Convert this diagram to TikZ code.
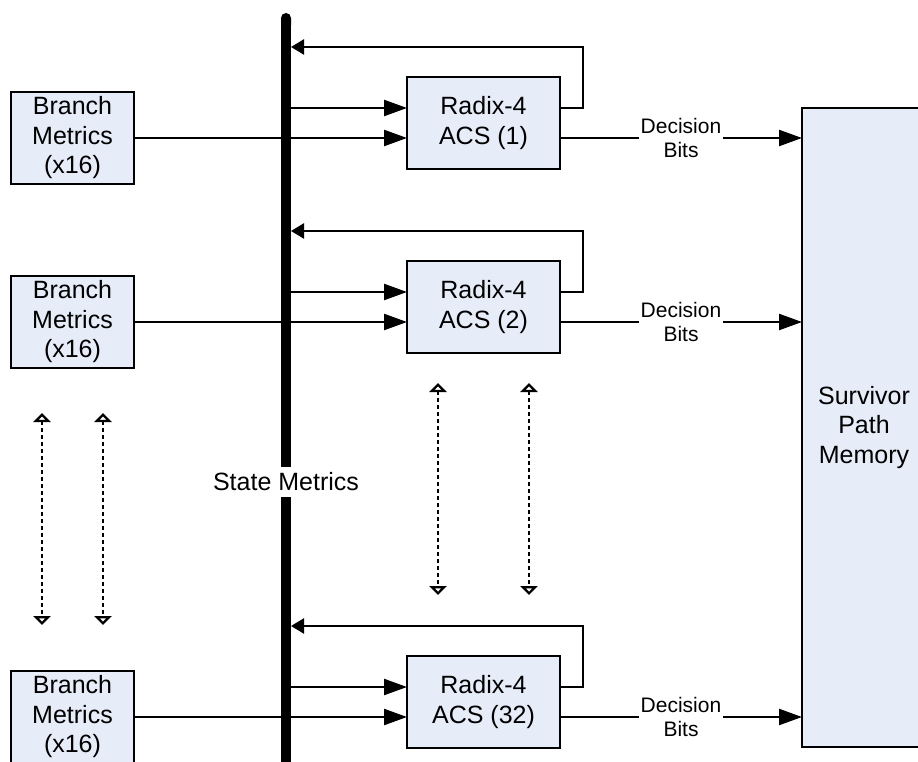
\documentclass[tikz,border=0pt]{standalone}
\usepackage{fontspec}
\setmainfont{Liberation Sans}
\usetikzlibrary{arrows.meta}

\begin{document}
\begin{tikzpicture}[x=1pt, y=-1pt]
    % 定义颜色
    \definecolor{boxfill}{RGB}{230, 237, 248}
    % --- 设置全局样式 ---
    \useasboundingbox (0,0) rectangle (918,762); % 画布范围

    % 方框样式
    \tikzset{BoxStyle/.style = {
        shape=rectangle,        % 形状：矩形
        draw=black,             % 边框颜色
        fill=boxfill,           % 填充颜色
        line width=2.5pt,       % 边框粗细
        inner sep=0pt,          % 内部文字边距
        outer sep=0pt,
        align=center,           % 文字居中
        font=\fontsize{25}{29.5}\selectfont % 字体设置
    }}
    \tikzset{BranchStyle/.style = {BoxStyle, minimum width=123, minimum height=92}}
    \tikzset{AcsStyle/.style = {BoxStyle, minimum width=153, minimum height=92}}

    % 连线样式
    \tikzset{SigStyle/.style = {
        -{Triangle[length=23pt, width=16pt]}, % 箭头
        line width=2.3pt,       % 线条粗细
        color=black             % 线条颜色
    }}
    \tikzset{FeedStyle/.style = {
        -{Triangle[length=13pt, width=15pt]},
        line width=2.3pt,
        color=black
    }}
    \tikzset{BusStyle/.style = {line width=10pt, color=black}}
    \tikzset{DotStyle/.style = {
        {Triangle[open, length=9pt, width=17pt]}-{Triangle[open, length=9pt, width=17pt]},
        line width=2.3pt,
        dash pattern=on 4pt off 3pt
    }}
    \tikzset{DecStyle/.style = {
        fill=white, inner xsep=2pt, inner ysep=0pt,
        align=center, font=\fontsize{21}{24}\selectfont
    }}

    % --- 定义节点 (Nodes) ---
    % 使用绝对坐标 (x, y) 定位

    % 左侧 Branch Metrics
    \node[BranchStyle] (bm1) at (72.5,138) {Branch\\Metrics\\(x16)};
    \node[BranchStyle] (bm2) at (72.5,322) {Branch\\Metrics\\(x16)};
    \node[BranchStyle] (bm3) at (72.5,717) {Branch\\Metrics\\(x16)};

    % 中间 ACS
    \node[AcsStyle] (acs1) at (483.5,123) {Radix-4\\ACS (1)};
    \node[AcsStyle] (acs2) at (483.5,307) {Radix-4\\ACS (2)};
    \node[AcsStyle] (acs3) at (483.5,702) {Radix-4\\ACS (32)};

    % 右侧 Survivor Path Memory
    \node[BoxStyle, minimum width=124, minimum height=639] (sv) at (864,427.5)
        {Survivor\\Path\\Memory};

    % State Metrics 总线
    \coordinate (bustop) at (286,13);
    \coordinate (busbot) at (286,770);
    \node[inner sep=6pt, outer sep=0pt, font=\fontsize{25}{29.5}\selectfont] (sm) at (286,482) {State Metrics};

    % 总线上的抽头
    \coordinate (tapI1) at (291,108);
    \coordinate (tapF1) at (291,47);
    \coordinate (tapI2) at (291,292);
    \coordinate (tapF2) at (291,231);
    \coordinate (tapI3) at (291,687);
    \coordinate (tapF3) at (291,626);

    % --- 定义连线 (Edges) ---
    \draw[SigStyle] (bm1) -- (acs1.west |- bm1); % Branch -> ACS (1)
    \draw[SigStyle] (bm2) -- (acs2.west |- bm2); % Branch -> ACS (2)
    \draw[SigStyle] (bm3) -- (acs3.west |- bm3); % Branch -> ACS (32)

    \draw[BusStyle, {Round Cap[]}-] (bustop) -- (sm);
    \draw[BusStyle] (sm) -- (busbot);

    \draw[SigStyle] (tapI1) -- (acs1.west |- tapI1); % State -> ACS (1)
    \draw[SigStyle] (tapI2) -- (acs2.west |- tapI2); % State -> ACS (2)
    \draw[SigStyle] (tapI3) -- (acs3.west |- tapI3); % State -> ACS (32)

    \draw[FeedStyle] (acs1.east |- tapI1) -- ++(23,0) |- (tapF1); % ACS (1) -> State
    \draw[FeedStyle] (acs2.east |- tapI2) -- ++(23,0) |- (tapF2); % ACS (2) -> State
    \draw[FeedStyle] (acs3.east |- tapI3) -- ++(23,0) |- (tapF3); % ACS (32) -> State

    \draw[SigStyle] (acs1.east |- bm1) -- node[DecStyle] {Decision\\Bits} (sv.west |- bm1);
    \draw[SigStyle] (acs2.east |- bm2) -- node[DecStyle] {Decision\\Bits} (sv.west |- bm2);
    \draw[SigStyle] (acs3.east |- bm3) -- node[DecStyle] {Decision\\Bits} (sv.west |- bm3);

    % 省略号 (虚线双箭头)
    \coordinate (dl1t) at (42,413);  \coordinate (dl1b) at (42,625);
    \coordinate (dl2t) at (103,413); \coordinate (dl2b) at (103,625);
    \coordinate (dr1t) at (438,383); \coordinate (dr1b) at (438,595);
    \coordinate (dr2t) at (529,383); \coordinate (dr2b) at (529,595);
    \draw[DotStyle] (dl1t) -- (dl1b);
    \draw[DotStyle] (dl2t) -- (dl2b);
    \draw[DotStyle] (dr1t) -- (dr1b);
    \draw[DotStyle] (dr2t) -- (dr2b);

  \end{tikzpicture}
\end{document}
